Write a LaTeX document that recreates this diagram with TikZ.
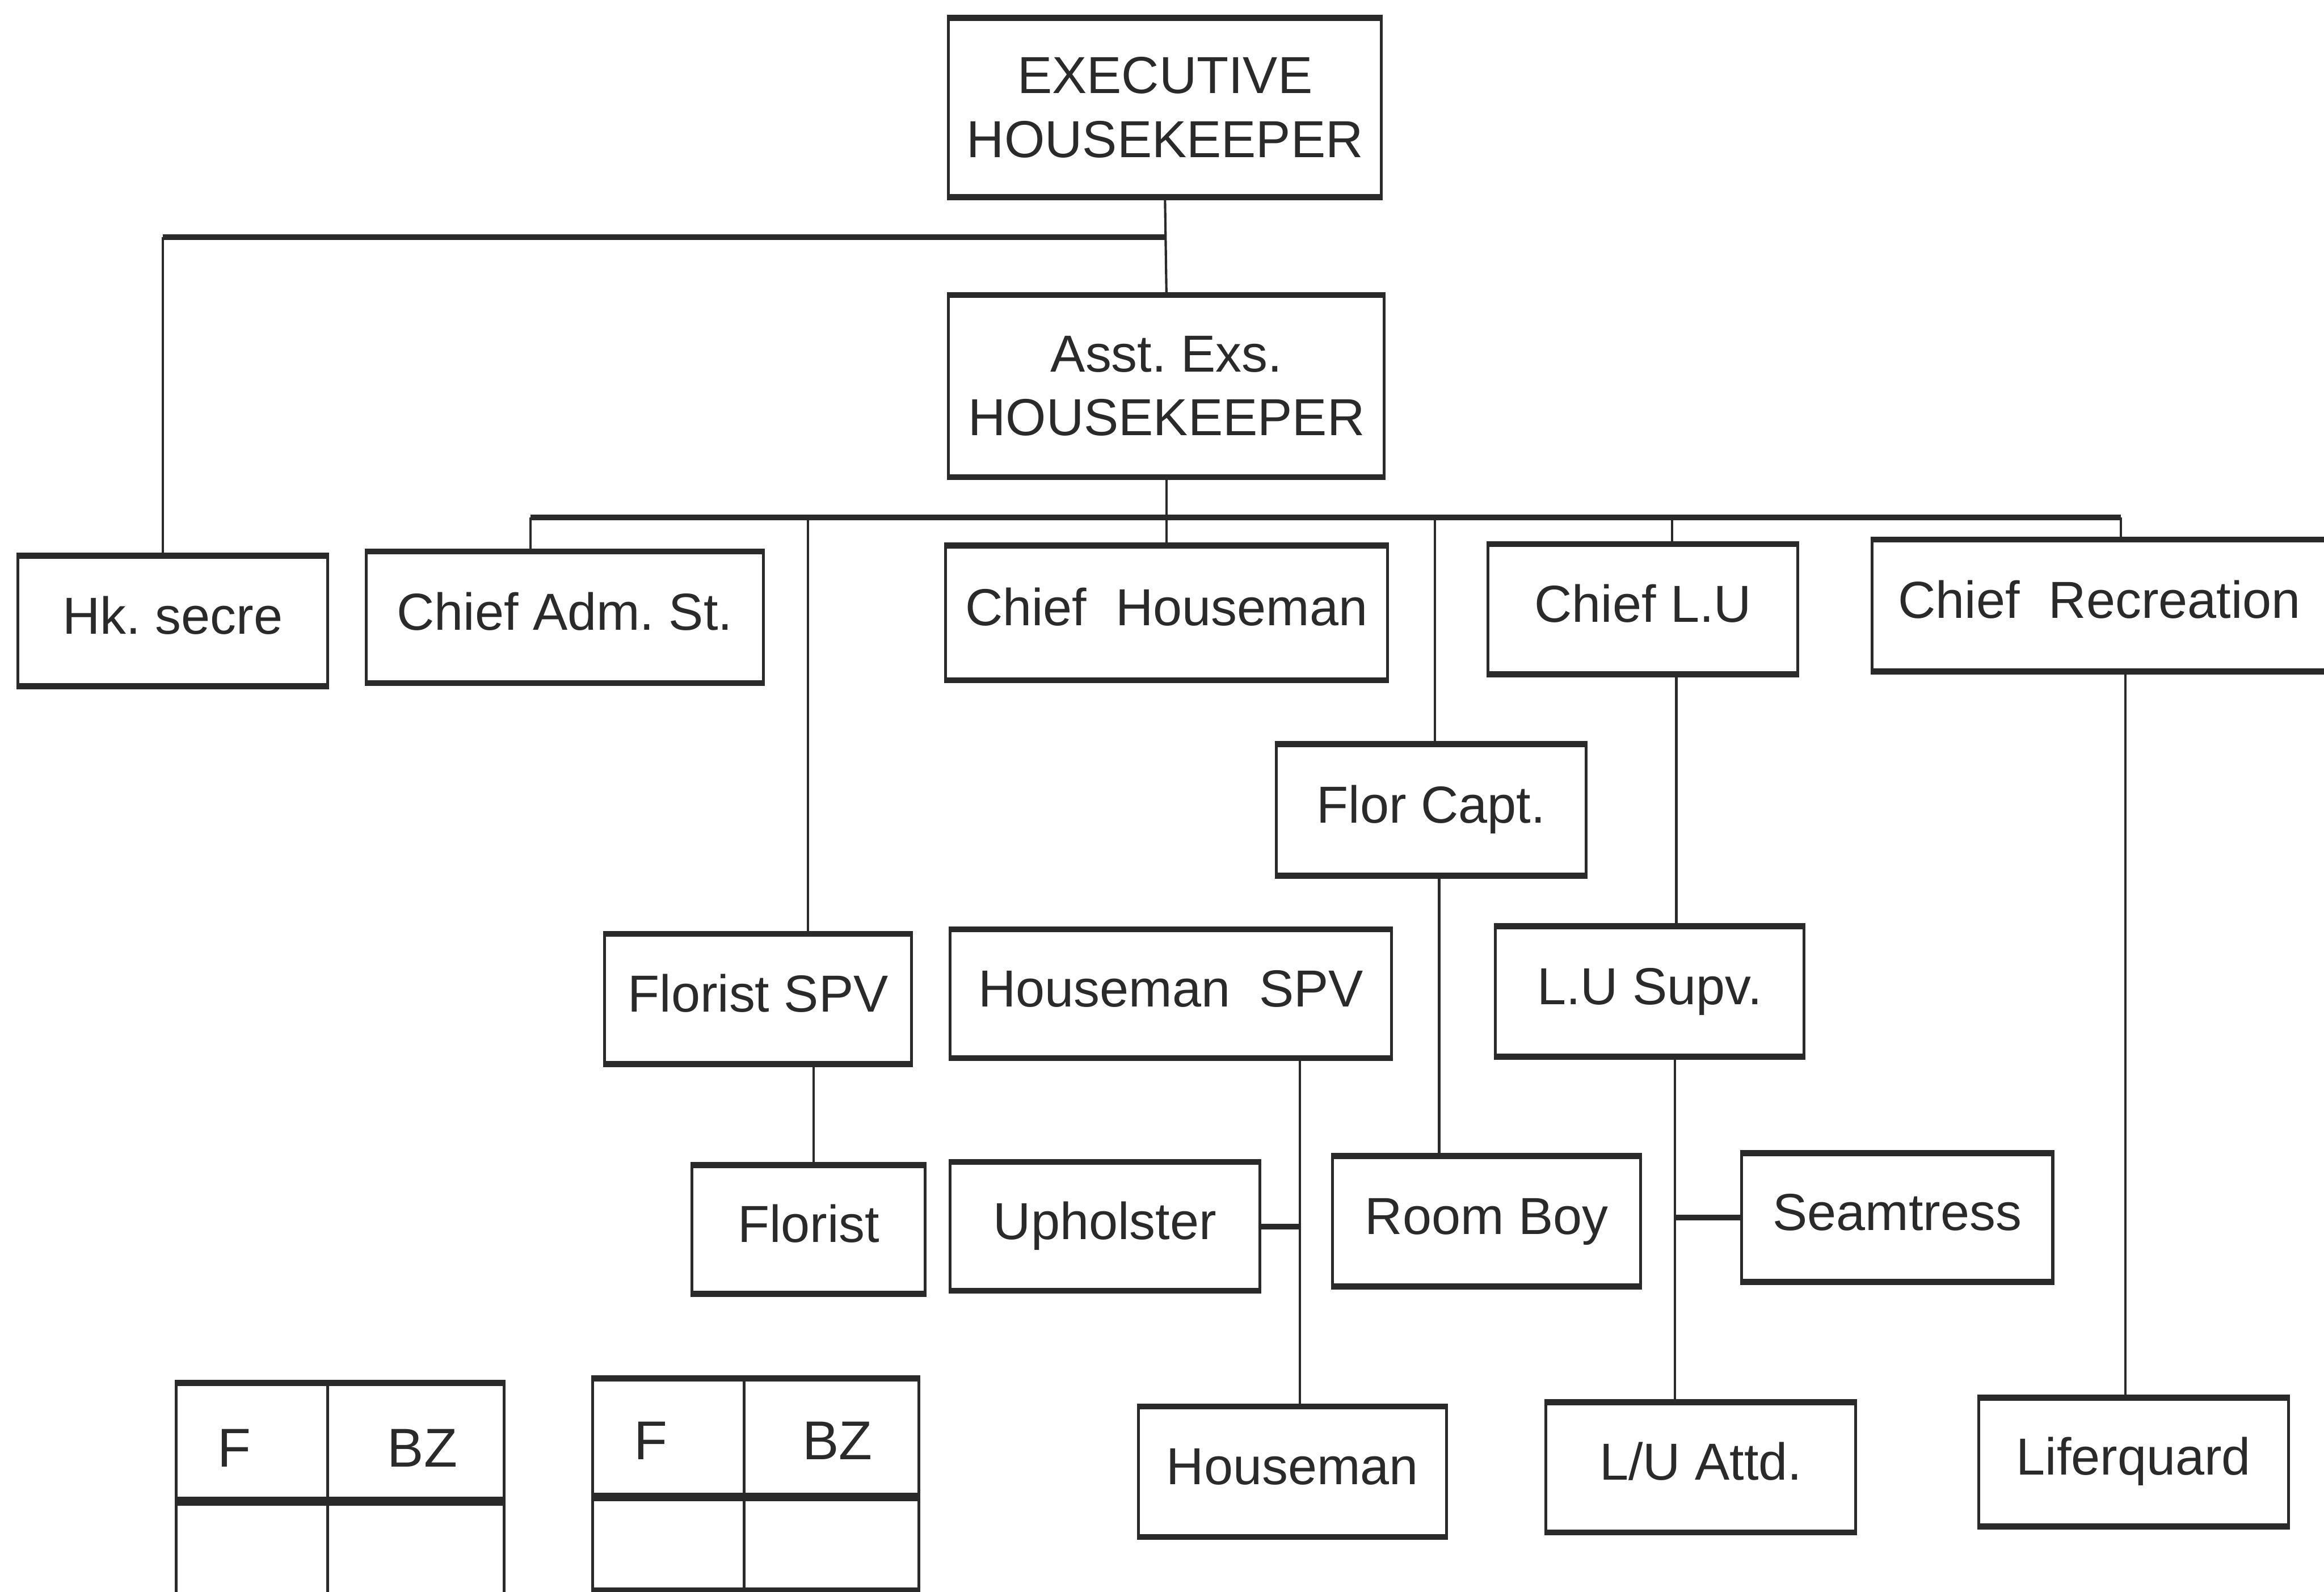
\documentclass[tikz,border=0pt]{standalone}
\usepackage{fontspec}
\setmainfont{Liberation Sans}
\frenchspacing
\definecolor{ink}{HTML}{2A2A2A}
\begin{document}
\begin{tikzpicture}[
  box/.style={draw=ink, line width=1.1pt, rectangle, inner sep=0pt, text=ink,
    font=\fontsize{20}{24}\selectfont, text height=14.3pt, text depth=4.5pt},
  bigbox/.style={draw=ink, line width=1.1pt, rectangle, inner sep=0pt, text=ink,
    align=center, font=\fontsize{20}{24.5}\selectfont},
  cell/.style={draw=ink, line width=1.1pt, rectangle, inner sep=0pt},
  celltext/.style={text=ink, inner sep=0pt, font=\fontsize{21}{24}\selectfont},
  vline/.style={draw=ink, line width=0.9pt},
  hline/.style={draw=ink, line width=2.2pt},
  thickedge/.style={draw=ink, line width=2.3pt}
]
\useasboundingbox (0,0) rectangle (31.36,-21.48);
\clip (0,0) rectangle (31.36,-21.48);
\fill[white] (0,0) rectangle (31.36,-21.48);

% boxes
\node[bigbox, minimum width=5.84cm, minimum height=2.38cm] (exec) at (15.72,-1.45) {EXECUTIVE\\HOUSEKEEPER};
\node[bigbox, minimum width=5.88cm, minimum height=2.42cm] (asst) at (15.74,-5.21) {Asst. Exs.\\HOUSEKEEPER};
\node[box, minimum width=4.18cm, minimum height=1.72cm] (hk) at (2.33,-8.38) {Hk. secre};
\node[box, minimum width=5.36cm, minimum height=1.74cm] (adm) at (7.62,-8.33) {Chief Adm. St.};
\node[box, minimum width=5.96cm, minimum height=1.78cm] (chh) at (15.74,-8.27) {Chief\ \ Houseman};
\node[box, minimum width=4.18cm, minimum height=1.72cm] (clu) at (22.17,-8.22) {Chief L.U};
\node[box, minimum width=6.24cm, minimum height=1.74cm] (crec) at (28.38,-8.17) {Chief\ \ Recreation\hspace*{0.1cm}};
\node[box, minimum width=4.18cm, minimum height=1.74cm] (fcapt) at (19.31,-10.93) {Flor Capt.};
\node[box, minimum width=4.14cm, minimum height=1.72cm] (fspv) at (10.23,-13.48) {Florist SPV};
\node[box, minimum width=5.96cm, minimum height=1.70cm] (hspv) at (15.80,-13.41) {Houseman\ \ SPV};
\node[box, minimum width=4.16cm, minimum height=1.72cm] (lusupv) at (22.26,-13.38) {L.U Supv.};
\node[box, minimum width=3.14cm, minimum height=1.70cm] (florist) at (10.91,-16.59) {Florist};
\node[box, minimum width=4.18cm, minimum height=1.70cm] (uph) at (14.91,-16.55) {Upholster};
\node[box, minimum width=4.16cm, minimum height=1.72cm] (rboy) at (20.06,-16.48) {Room Boy};
\node[box, minimum width=4.20cm, minimum height=1.70cm] (seam) at (25.60,-16.43) {Seamtress};
\node[box, minimum width=4.16cm, minimum height=1.72cm] (hman) at (17.44,-19.86) {Houseman};
\node[box, minimum width=4.18cm, minimum height=1.72cm] (luattd) at (22.95,-19.80) {L/U Attd.};
\node[box, minimum width=4.18cm, minimum height=1.70cm] (lifer) at (28.79,-19.73) {Liferquard};

% thick top and bottom edges (as in the scan)
\foreach \n in {exec,asst,hk,adm,chh,clu,crec,fcapt,fspv,hspv,lusupv,florist,uph,rboy,seam,hman,luattd,lifer}
  \draw[thickedge] (\n.north west) -- (\n.north east) (\n.south west) -- (\n.south east);

% tables
\node[cell, minimum width=2.04cm, minimum height=1.58cm] (t1a) at (3.40,-19.47) {};
\node[cell, minimum width=2.38cm, minimum height=1.58cm] (t1b) at (5.61,-19.47) {};
\node[cell, minimum width=2.04cm, minimum height=1.54cm] (t1c) at (3.40,-21.03) {};
\node[cell, minimum width=2.38cm, minimum height=1.54cm] (t1d) at (5.61,-21.03) {};
\node[cell, minimum width=2.04cm, minimum height=1.58cm] (t2a) at (9.02,-19.41) {};
\node[cell, minimum width=2.36cm, minimum height=1.58cm] (t2b) at (11.22,-19.41) {};
\node[cell, minimum width=2.04cm, minimum height=1.24cm] (t2c) at (9.02,-20.82) {};
\node[cell, minimum width=2.36cm, minimum height=1.24cm] (t2d) at (11.22,-20.82) {};
\foreach \n in {t1a,t1b,t1c,t1d,t2a,t2b,t2c,t2d}
  \draw[thickedge] (\n.north west) -- (\n.north east) (\n.south west) -- (\n.south east);
\node[celltext] (f1) at (3.16,-19.54) {F};
\node[celltext] (bz1) at (5.70,-19.54) {BZ};
\node[celltext] (f2) at (8.78,-19.44) {F};
\node[celltext] (bz2) at (11.30,-19.44) {BZ};

% connectors
\coordinate (hkT) at (2.20,-3.20);
\draw[hline] (hkT) -- (hkT -| exec.south);
\draw[vline] (hkT) -- (hkT |- hk.north);
\draw[vline] (exec.south) -- (asst.north);

\coordinate (busL) at (7.16,-6.98);
\coordinate (busR) at (28.62,-6.98);
\coordinate (dF) at (10.90,-6.98);
\coordinate (dC) at (19.36,-6.98);
\coordinate (dL) at (22.56,-6.98);
\draw[hline] (busL) -- (busR);
\draw[vline] (asst.south) -- (chh.north);
\draw[vline] (busL) -- (busL |- adm.north);
\draw[vline] (dF) -- (dF |- fspv.north);
\draw[vline] (dC) -- (dC |- fcapt.north);
\draw[vline] (dL) -- (dL |- clu.north);
\draw[vline] (busR) -- (busR |- crec.north);

\coordinate (vLU) at (22.62,0);
\coordinate (vRec) at (28.68,0);
\coordinate (vFC) at (19.42,0);
\coordinate (vFS) at (10.98,0);
\coordinate (vHS) at (17.54,0);
\coordinate (vLS) at (22.60,0);
\draw[vline] (vLU |- clu.south) -- (vLU |- lusupv.north);
\draw[vline] (vRec |- crec.south) -- (vRec |- lifer.north);
\draw[vline] (vFC |- fcapt.south) -- (vFC |- rboy.north);
\draw[vline] (vFS |- fspv.south) -- (vFS |- florist.north);
\draw[vline] (vHS |- hspv.south) -- (vHS |- hman.north);
\draw[vline] (vLS |- lusupv.south) -- (vLS |- luattd.north);
\draw[hline] (uph.east) -- (uph.east -| vHS);
\draw[hline] (seam.west) -- (seam.west -| vLS);
\end{tikzpicture}
\end{document}
